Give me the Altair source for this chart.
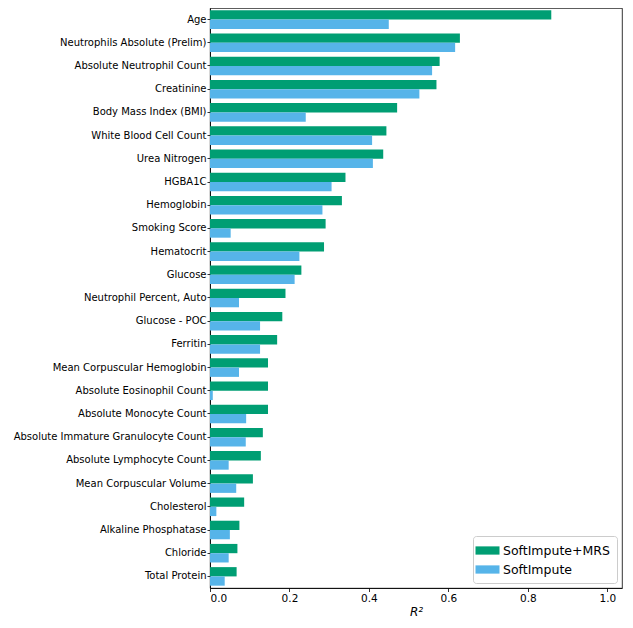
import altair as alt
import pandas as pd

categories = [
    "Age", "Neutrophils Absolute (Prelim)", "Absolute Neutrophil Count", "Creatinine",
    "Body Mass Index (BMI)", "White Blood Cell Count", "Urea Nitrogen", "HGBA1C",
    "Hemoglobin", "Smoking Score", "Hematocrit", "Glucose", "Neutrophil Percent, Auto",
    "Glucose - POC", "Ferritin", "Mean Corpuscular Hemoglobin", "Absolute Eosinophil Count",
    "Absolute Monocyte Count", "Absolute Immature Granulocyte Count", "Absolute Lymphocyte Count",
    "Mean Corpuscular Volume", "Cholesterol", "Alkaline Phosphatase", "Chloride", "Total Protein",
]
softimpute_mrs = [0.859, 0.629, 0.578, 0.570, 0.471, 0.444, 0.436, 0.341, 0.332, 0.291,
                  0.287, 0.230, 0.190, 0.182, 0.169, 0.146, 0.146, 0.146, 0.133, 0.128,
                  0.108, 0.086, 0.074, 0.069, 0.067]
softimpute = [0.450, 0.617, 0.559, 0.527, 0.241, 0.408, 0.410, 0.306, 0.283, 0.052,
              0.225, 0.213, 0.073, 0.126, 0.126, 0.073, 0.007, 0.091, 0.090, 0.047,
              0.066, 0.016, 0.050, 0.047, 0.037]
series = ["SoftImpute+MRS", "SoftImpute"]
colors = ["#009E73", "#56B4E9"]
x_ticks = [0.0, 0.2, 0.4, 0.6, 0.8, 1.0]

rows = []
for c, a, b in zip(categories, softimpute_mrs, softimpute):
    rows.append({"feature": c, "method": series[0], "r2": a})
    rows.append({"feature": c, "method": series[1], "r2": b})
df = pd.DataFrame(rows)

font = "DejaVu Sans"

chart = alt.Chart(df).mark_bar().encode(
    y=alt.Y("feature:N", sort=categories,
            scale=alt.Scale(paddingInner=0.2, paddingOuter=0.1),
            axis=alt.Axis(title=None, labelFontSize=10, labelLimit=300, tickSize=3,
                          labelPadding=1)),
    yOffset=alt.YOffset("method:N", sort=series, scale=alt.Scale(domain=series)),
    x=alt.X("r2:Q", scale=alt.Scale(domain=[0, 1.037], nice=False),
            axis=alt.Axis(values=x_ticks, format=".1f", title="R²", titleFontStyle="italic",
                          titleFontWeight="normal", titleFontSize=12, labelFontSize=10.5,
                          tickSize=3.5, grid=False, titlePadding=2)),
    color=alt.Color("method:N", scale=alt.Scale(domain=series, range=colors),
                    legend=alt.Legend(title=None, orient="bottom-right", offset=5,
                                      symbolType="M-1.6,-0.55H1.6V0.55H-1.6Z",
                                      symbolSize=225, symbolStrokeWidth=0,
                                      labelFontSize=12.5, rowPadding=5, labelOffset=8,
                                      padding=7, fillColor="white",
                                      strokeColor="#cccccc", cornerRadius=3)),
).properties(
    width=412, height=580,
    autosize=alt.AutoSizeParams(type="none"),
    padding={"left": 202, "top": 0, "right": 2, "bottom": 34},
).configure_view(
    stroke="black", strokeWidth=0.8
).configure_axis(
    labelFont=font, titleFont=font, labelColor="black", titleColor="black",
    domainColor="black", tickColor="black", domainWidth=0.8, tickWidth=0.8,
).configure_legend(
    labelFont=font, labelColor="black"
)

chart.save("out.html", embed_options={"renderer": "svg", "actions": False})
